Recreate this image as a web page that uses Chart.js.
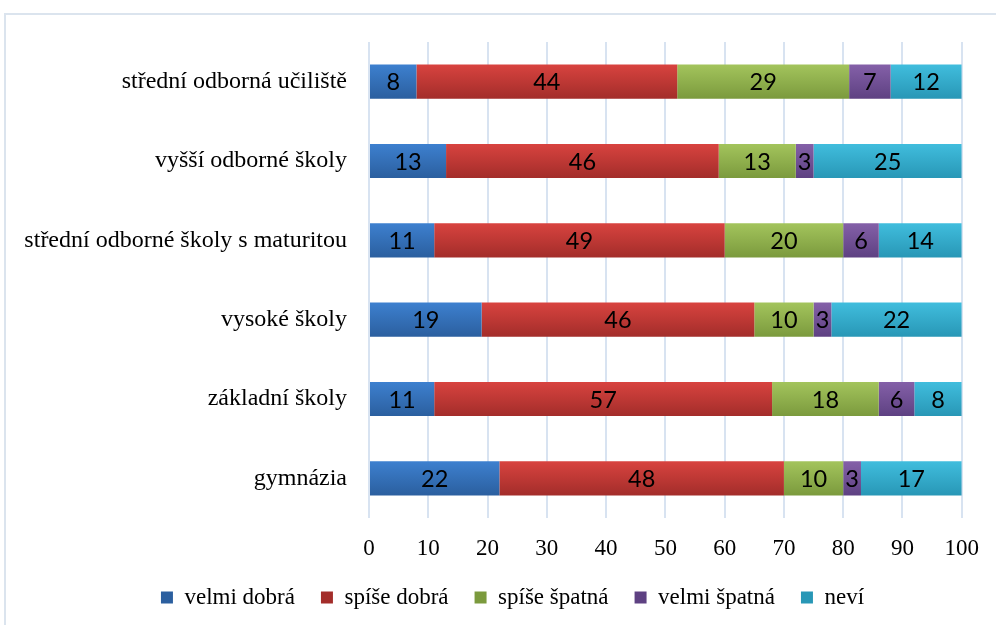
<!DOCTYPE html>
<html>
<head>
<meta charset="utf-8">
<script src="https://cdn.jsdelivr.net/npm/chart.js@4/dist/chart.umd.min.js"></script>
<style>
  html, body { margin: 0; padding: 0; background: #fff; overflow: hidden; }
  #frame { position: absolute; left: 4px; top: 13px; width: 1100px; height: 700px;
           border-top: 2px solid #dbe4ee; border-left: 2px solid #dbe4ee; box-sizing: border-box; }
  #c { position: absolute; left: 0; top: 0; }
</style>
</head>
<body>
<div id="frame"></div>
<canvas id="c" width="996" height="625"></canvas>
<script>
const categories = [
  'střední odborná učiliště',
  'vyšší odborné školy',
  'střední odborné školy s maturitou',
  'vysoké školy',
  'základní školy',
  'gymnázia'
];
const seriesNames = ['velmi dobrá', 'spíše dobrá', 'spíše špatná', 'velmi špatná', 'neví'];
const velmiDobra  = [8, 13, 11, 19, 11, 22];
const spiseDobra  = [44, 46, 49, 46, 57, 48];
const spiseSpatna = [29, 13, 20, 10, 18, 10];
const velmiSpatna = [7, 3, 6, 3, 6, 3];
const nevi        = [12, 25, 14, 22, 8, 17];
const xTicks = [0, 10, 20, 30, 40, 50, 60, 70, 80, 90, 100];

const palette = [
  ['#3d80cf', '#2b5f9f', '#3370b8'],
  ['#d8433f', '#a32d2a', '#c0393a'],
  ['#a3c45c', '#7b9a3d', '#8fb04c'],
  ['#8460a8', '#5e4182', '#71519a'],
  ['#40bddd', '#2897b6', '#33a9c9']
];

const SERIF = '"Liberation Serif", "Times New Roman", serif';
Chart.defaults.font.family = SERIF;
Chart.defaults.color = '#000';

function gradientFor(i) {
  return function(ctx) {
    const chart = ctx.chart;
    if (ctx.type !== 'data' || !chart.chartArea) return palette[i][2];
    const y = chart.scales.y.getPixelForValue(ctx.dataIndex);
    const h = 17;
    const g = chart.ctx.createLinearGradient(0, y - h, 0, y + h);
    g.addColorStop(0, palette[i][0]);
    g.addColorStop(1, palette[i][1]);
    return g;
  };
}

const allSeries = [velmiDobra, spiseDobra, spiseSpatna, velmiSpatna, nevi];

const labelPlugin = {
  id: 'barLabels',
  afterDatasetsDraw(chart) {
    const c = chart.ctx;
    c.save();
    c.font = 'normal 400 23.5px Lato, sans-serif';
    c.fillStyle = '#000';
    c.textAlign = 'center';
    c.textBaseline = 'middle';
    chart.data.datasets.forEach((ds, di) => {
      const meta = chart.getDatasetMeta(di);
      meta.data.forEach((el, idx) => {
        const v = ds.data[idx];
        c.fillText(String(v), (el.x + el.base) / 2, el.y + 1);
      });
    });
    c.restore();
  }
};

const legendShift = {
  id: 'legendShift',
  afterLayout(chart) {
    if (chart.legend) { chart.legend.left += 31; chart.legend.right += 31; }
  }
};

new Chart(document.getElementById('c'), {
  type: 'bar',
  data: {
    labels: categories,
    datasets: allSeries.map((d, i) => ({
      label: seriesNames[i],
      data: d,
      backgroundColor: gradientFor(i),
      borderWidth: 0,
      categoryPercentage: 1,
      barPercentage: 0.43
    }))
  },
  options: {
    indexAxis: 'y',
    responsive: false,
    animation: false,
    layout: { padding: { left: 0, right: 33, top: 42, bottom: 6 } },
    scales: {
      x: {
        stacked: true,
        min: 0, max: 100,
        afterBuildTicks(scale) { scale.ticks = xTicks.map(v => ({ value: v })); },
        afterFit(scale) { scale.height = 42; },
        border: { display: false },
        grid: { color: '#d8e3f1', lineWidth: 2, drawTicks: false },
        ticks: { padding: 17, color: '#000', font: { family: SERIF, size: 23 } }
      },
      y: {
        stacked: true,
        afterFit(scale) { scale.width = 369; },
        border: { display: false },
        grid: { display: false, drawTicks: false },
        ticks: { padding: 22, color: '#000', font: { family: SERIF, size: 24 } }
      }
    },
    plugins: {
      legend: {
        position: 'bottom',
        labels: {
          boxWidth: 12, boxHeight: 12, padding: 26,
          color: '#000',
          font: { family: SERIF, size: 23 }
        }
      },
      tooltip: { enabled: false }
    }
  },
  plugins: [labelPlugin, legendShift]
});
</script>
</body>
</html>
